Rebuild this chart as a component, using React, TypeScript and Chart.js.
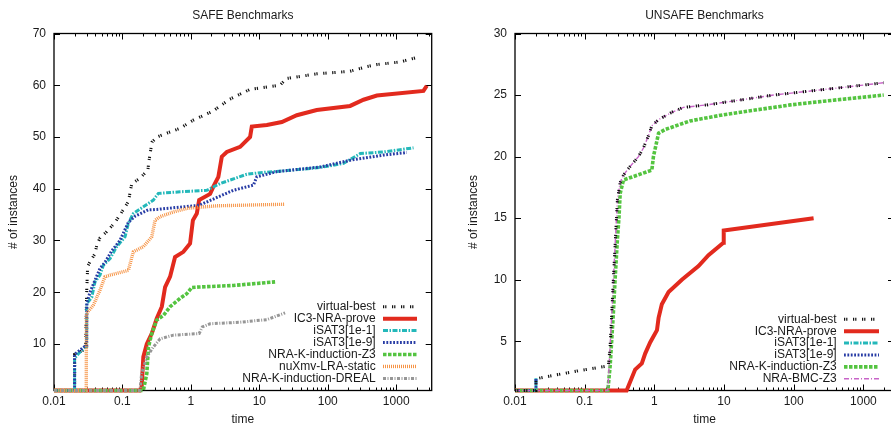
import React, { useEffect, useRef } from "react";
import { Chart, registerables } from "chart.js";

Chart.register(...registerables);

const FONT = "'Liberation Sans', Arial, Helvetica, sans-serif";

// ---------- tick labels ----------
const X_TICKS = [0.01, 0.1, 1, 10, 100, 1000];
const SAFE_Y_TICKS = [10, 20, 30, 40, 50, 60, 70];
const UNSAFE_Y_TICKS = [5, 10, 15, 20, 25, 30];

// ---------- SAFE benchmarks ----------
const safeVirtualBestT = [0.01, 0.02, 0.02, 0.029, 0.03, 0.031, 0.034, 0.04, 0.042, 0.047, 0.059, 0.078, 0.098, 0.122, 0.137, 0.18, 0.235, 0.245, 0.27, 0.32, 0.44, 0.7, 1.1, 2.1, 3.7, 7.3, 20, 25, 69, 212, 373, 522, 1143, 2190];
const safeVirtualBestY = [1, 1, 8, 9, 20, 25, 26, 27.5, 29, 30.5, 31.7, 33.5, 35.5, 37.5, 41, 42, 43.6, 45.5, 49, 50, 50.7, 51.7, 53.3, 55, 57.3, 59.2, 60, 61.3, 62.2, 62.7, 63.6, 64, 64.5, 65.5];

const safeIc3T = [0.01, 0.18, 0.191, 0.202, 0.227, 0.268, 0.317, 0.376, 0.42, 0.497, 0.587, 0.777, 0.973, 1.07, 1.22, 1.32, 1.91, 2.13, 2.52, 2.83, 3.35, 5.24, 7.33, 7.76, 12.9, 21.3, 35.3, 69, 212, 333, 522, 2500, 2800];
const safeIc3Y = [1, 1, 1.7, 7.5, 10, 12, 14.9, 17.2, 21, 23, 26.8, 27.8, 29.4, 33.9, 35.2, 37.8, 39, 40.4, 42.3, 46.2, 47.1, 48.1, 50, 52, 52.3, 52.9, 54.2, 55.2, 56, 57.2, 58, 58.9, 59.9];

const safeIsat1T = [0.01, 0.02, 0.02, 0.0227, 0.0284, 0.03, 0.0301, 0.0356, 0.0397, 0.047, 0.0526, 0.0659, 0.0826, 0.109, 0.122, 0.144, 0.202, 0.283, 0.335, 0.695, 1.71, 2.67, 6.56, 10.3, 25.2, 77.4, 170, 298, 652, 1790];
const safeIsat1Y = [1, 1, 7.2, 8.1, 9.4, 9.5, 17.8, 19, 22, 23.3, 25.2, 26.5, 28.8, 30.7, 33.3, 35.2, 36.5, 37.8, 39.1, 39.4, 39.7, 41, 42.8, 43.1, 43.5, 44.1, 44.9, 46.8, 47.1, 47.9];

const safeIsat9T = [0.01, 0.02, 0.02, 0.024, 0.028, 0.03, 0.0302, 0.0336, 0.0397, 0.047, 0.0557, 0.0698, 0.092, 0.122, 0.153, 0.237, 0.317, 1.32, 4.18, 8.2, 9.18, 18, 77.4, 212, 652, 1430];
const safeIsat9Y = [1, 1, 8, 8.8, 9.5, 9.6, 17.9, 20, 22.3, 24.6, 25.8, 28, 30, 33.5, 34.7, 35.9, 36, 36.8, 39.7, 40.7, 42.3, 43.3, 44.2, 45.5, 46.5, 47];

const safeZ3T = [0.01, 0.202, 0.227, 0.24, 0.268, 0.317, 0.396, 0.497, 0.695, 0.87, 1.03, 1.32, 4.18, 17];
const safeZ3Y = [1, 1, 4.3, 9.4, 12, 14.6, 15.5, 17.2, 18.8, 19.7, 20.9, 21, 21.3, 22];

const safeNuxmvT = [0.01, 0.0296, 0.0298, 0.0376, 0.047, 0.0557, 0.0659, 0.122, 0.144, 0.202, 0.268, 0.3, 0.355, 0.555, 0.87, 2.39, 23.8];
const safeNuxmvY = [1, 1, 15.9, 17.5, 20.4, 23, 23.3, 24.2, 27.8, 28.8, 30.7, 33.9, 34.6, 35.5, 36.2, 36.7, 37];

const safeDrealT = [0.01, 0.18, 0.191, 0.227, 0.283, 0.355, 0.555, 1.32, 1.47, 1.91, 5.24, 12.9, 23.8];
const safeDrealY = [1, 1, 4.3, 7.5, 9.4, 11, 11.7, 12, 13.3, 13.9, 14.2, 14.7, 16];

// ---------- UNSAFE benchmarks ----------
const unsafeVirtualBestT = [0.01, 0.02, 0.02, 0.027, 0.081, 0.219, 0.232, 0.245, 0.258, 0.273, 0.282, 0.295, 0.323, 0.36, 0.449, 0.591, 0.697, 0.823, 0.92, 1.15, 1.78, 2.62, 5.68, 17.1, 51.4, 155, 468, 1960];
const unsafeVirtualBestY = [1, 1, 1.95, 2.1, 2.6, 3, 4.6, 7.3, 10, 12.7, 14.3, 16.5, 17.9, 18.5, 19.2, 20, 20.7, 21.7, 22.5, 23, 23.6, 24, 24.2, 24.6, 25, 25.3, 25.6, 26];

const unsafeIc3T = [0.01, 0.4, 0.53, 0.661, 0.738, 0.87, 1.09, 1.15, 1.28, 1.6, 2.48, 4.3, 5.98, 9.8, 9.9, 193];
const unsafeIc3Y = [1, 1, 2.7, 3.2, 4, 4.9, 5.9, 6.9, 8, 9, 10, 11.1, 12, 13, 14, 15];

const unsafeIsat1T = [0.01, 0.02, 0.02];
const unsafeIsat1Y = [1, 1, 2];

const unsafeIsat9T = [0.01, 0.02, 0.02];
const unsafeIsat9Y = [1, 1, 2];

const unsafeZ3T = [0.01, 0.215, 0.232, 0.258, 0.273, 0.295, 0.311, 0.323, 0.36, 0.92, 0.97, 1.15, 1.43, 3.27, 9.84, 29.7, 89.3, 269, 1960];
const unsafeZ3Y = [1, 1, 3, 7.3, 10, 13.3, 15.1, 17, 18.1, 18.9, 20, 21.9, 22.2, 22.9, 23.4, 23.8, 24.2, 24.5, 25];

const unsafeBmcT = [0.01, 0.215, 0.232, 0.245, 0.258, 0.273, 0.282, 0.295, 0.323, 0.36, 0.449, 0.591, 0.697, 0.823, 0.92, 1.15, 1.78, 2.62, 5.68, 17.1, 51.4, 155, 468, 1960];
const unsafeBmcY = [1, 1, 4.6, 7.3, 10, 12.7, 14.3, 16.5, 17.9, 18.5, 19.2, 20, 20.7, 21.7, 22.5, 23, 23.6, 24, 24.2, 24.6, 25, 25.3, 25.6, 26];

// ---------- styles ----------
const STYLES: Record<string, { color: string; width: number; dash: number[] }> = {
  "virtual-best": { color: "#111111", width: 3, dash: [1.2, 1, 1.2, 5.6] },
  "IC3-NRA-prove": { color: "rgb(226,42,30)", width: 4, dash: [] },
  "iSAT3[1e-1]": { color: "rgb(36,184,186)", width: 3, dash: [5, 1.5, 1.5, 1.5] },
  "iSAT3[1e-9]": { color: "rgb(40,60,165)", width: 3, dash: [1.8, 1.6] },
  "NRA-K-induction-Z3": { color: "rgb(84,196,64)", width: 3.6, dash: [3.5, 1.5] },
  "nuXmv-LRA-static": { color: "rgb(246,148,70)", width: 3.4, dash: [1, 1] },
  "NRA-K-induction-DREAL": { color: "rgb(150,150,150)", width: 3, dash: [3, 1.5, 1, 1.5] },
  "NRA-BMC-Z3": { color: "rgb(200,100,200)", width: 1.4, dash: [5, 2, 1, 2] },
};

const zip = (t: number[], y: number[]) => t.map((v, i) => ({ x: v, y: y[i] }));

function ds(label: string, t: number[], y: number[], i: number, order?: number) {
  const s = STYLES[label];
  return {
    label,
    data: zip(t, y),
    borderColor: s.color,
    backgroundColor: s.color,
    borderWidth: s.width,
    borderDash: s.dash,
    pointRadius: 0,
    tension: 0,
    fill: false,
    clip: false as any,
    order: order !== undefined ? order : -i,
    borderCapStyle: "butt" as const,
    borderJoinStyle: "miter" as const,
  };
}

const decorPlugin = {
  id: "decor",
  beforeDatasetsDraw(chart: any, _args: any, opts: any) {
    const { ctx, chartArea: a, scales } = chart;
    const xs = scales.x;
    const ys = scales.y;
    ctx.save();
    ctx.setLineDash([]);
    ctx.strokeStyle = "#000";
    ctx.lineWidth = 1;
    ctx.beginPath();
    for (let d = -2; d <= 4; d++) {
      for (let m = 1; m <= 9; m++) {
        const v = m * Math.pow(10, d);
        if (v < xs.min * 0.999 || v > xs.max) continue;
        const px = Math.round(xs.getPixelForValue(v)) + 0.5;
        const len = m === 1 ? 6 : 3;
        ctx.moveTo(px, a.bottom);
        ctx.lineTo(px, a.bottom - len);
        ctx.moveTo(px, a.top);
        ctx.lineTo(px, a.top + len);
      }
    }
    for (const v of opts.yTicks) {
      const py = Math.round(ys.getPixelForValue(v)) + 0.5;
      ctx.moveTo(a.left, py);
      ctx.lineTo(a.left + 6, py);
      ctx.moveTo(a.right, py);
      ctx.lineTo(a.right - 6, py);
    }
    ctx.stroke();
    ctx.lineWidth = 1.3;
    ctx.strokeRect(a.left, a.top, a.right - a.left, a.bottom - a.top);
    ctx.restore();
  },
  afterDraw(chart: any, _args: any, opts: any) {
    const { ctx, chartArea: a } = chart;
    ctx.save();
    ctx.font = `12px ${FONT}`;
    ctx.fillStyle = "#1a1a1a";
    ctx.textBaseline = "middle";
    ctx.textAlign = "center";
    ctx.fillText(opts.title, (a.left + a.right) / 2, opts.titleY);
    ctx.textAlign = "right";
    chart.data.datasets.forEach((d: any, i: number) => {
      const y = opts.legendTop + i * opts.legendStep;
      ctx.fillStyle = "#1a1a1a";
      ctx.fillText(d.label, opts.legendTextRight, y);
      ctx.beginPath();
      ctx.setLineDash(d.borderDash || []);
      ctx.lineWidth = d.borderWidth;
      ctx.strokeStyle = d.borderColor;
      ctx.lineCap = "butt";
      ctx.moveTo(opts.legendX0, y);
      ctx.lineTo(opts.legendX1, y);
      ctx.stroke();
    });
    ctx.restore();
  },
};

const CANVAS_H = 427;
const PLOT_TOP = 33.5;
const PLOT_BOTTOM = 390.5;

function makeConfig(p: any) {
  const tickFont = { family: FONT, size: 12 };
  return {
    type: "line" as const,
    data: { datasets: p.datasets },
    options: {
      animation: false as const,
      responsive: false,
      devicePixelRatio: 1,
      events: [],
      layout: { padding: { top: PLOT_TOP, right: p.padRight, left: 0, bottom: 0 } },
      scales: {
        x: {
          type: "logarithmic" as const,
          min: 0.01,
          max: p.xMax,
          bounds: "data" as const,
          afterBuildTicks: (s: any) => {
            s.ticks = X_TICKS.map((v) => ({ value: v }));
          },
          afterFit: (s: any) => {
            s.height = CANVAS_H - PLOT_BOTTOM;
          },
          grid: { display: false, drawTicks: false },
          border: { display: false },
          ticks: {
            autoSkip: false,
            maxRotation: 0,
            minRotation: 0,
            padding: 4,
            color: "#1a1a1a",
            font: tickFont,
            callback: (v: any) => String(v),
          },
          title: { display: true, text: "time", color: "#1a1a1a", font: tickFont, padding: { top: 0, bottom: 0 } },
        },
        y: {
          type: "linear" as const,
          min: 1,
          max: p.yMax,
          afterBuildTicks: (s: any) => {
            s.ticks = p.yTicks.map((v: number) => ({ value: v }));
          },
          afterFit: (s: any) => {
            s.width = p.yWidth;
          },
          grid: { display: false, drawTicks: false },
          border: { display: false },
          ticks: { autoSkip: false, padding: 8, color: "#1a1a1a", font: tickFont },
          title: {
            display: true,
            text: "# of instances",
            color: "#1a1a1a",
            font: tickFont,
            padding: { top: p.yTitlePad, bottom: 0 },
          },
        },
      },
      plugins: {
        legend: { display: false },
        tooltip: { enabled: false },
        title: { display: false },
        decor: {
          title: p.title,
          titleY: 16,
          yTicks: p.yTicks,
          legendTop: p.legendTop,
          legendStep: p.legendStep,
          legendTextRight: p.legendTextRight,
          legendX0: p.legendX0,
          legendX1: p.legendX1,
        },
      },
    },
    plugins: [decorPlugin],
  };
}

function Panel({ left, width, build }: { left: number; width: number; build: () => any }) {
  const ref = useRef<HTMLCanvasElement | null>(null);
  useEffect(() => {
    if (!ref.current) return;
    const chart = new Chart(ref.current, build());
    return () => chart.destroy();
  }, []);
  return (
    <div style={{ position: "absolute", left, top: 0, width, height: CANVAS_H }}>
      <canvas ref={ref} width={width} height={CANVAS_H} style={{ display: "block", width, height: CANVAS_H }} />
    </div>
  );
}

const buildSafe = () =>
  makeConfig({
    title: "SAFE Benchmarks",
    xMax: 3300,
    yMax: 70,
    yTicks: SAFE_Y_TICKS,
    yWidth: 54,
    yTitlePad: 6,
    padRight: 445 - 431.7,
    legendTop: 306.7,
    legendStep: 11.95,
    legendTextRight: 375.7,
    legendX0: 383,
    legendX1: 417,
    datasets: [
      ds("virtual-best", safeVirtualBestT, safeVirtualBestY, 0),
      ds("IC3-NRA-prove", safeIc3T, safeIc3Y, 1),
      ds("iSAT3[1e-1]", safeIsat1T, safeIsat1Y, 2),
      ds("iSAT3[1e-9]", safeIsat9T, safeIsat9Y, 3),
      ds("NRA-K-induction-Z3", safeZ3T, safeZ3Y, 4),
      ds("nuXmv-LRA-static", safeNuxmvT, safeNuxmvY, 5),
      ds("NRA-K-induction-DREAL", safeDrealT, safeDrealY, 6),
    ],
  });

const buildUnsafe = () =>
  makeConfig({
    title: "UNSAFE Benchmarks",
    xMax: 2750,
    yMax: 30,
    yTicks: UNSAFE_Y_TICKS,
    yWidth: 70,
    yTitlePad: 21,
    padRight: 0,
    legendTop: 319.3,
    legendStep: 11.9,
    legendTextRight: 391.7,
    legendX0: 399,
    legendX1: 434,
    datasets: [
      ds("virtual-best", unsafeVirtualBestT, unsafeVirtualBestY, 0, -10),
      ds("IC3-NRA-prove", unsafeIc3T, unsafeIc3Y, 1),
      ds("iSAT3[1e-1]", unsafeIsat1T, unsafeIsat1Y, 2),
      ds("iSAT3[1e-9]", unsafeIsat9T, unsafeIsat9Y, 3),
      ds("NRA-K-induction-Z3", unsafeZ3T, unsafeZ3Y, 4),
      ds("NRA-BMC-Z3", unsafeBmcT, unsafeBmcY, 5),
    ],
  });

export default function App() {
  return (
    <div
      style={{
        position: "fixed",
        left: 0,
        top: 0,
        width: 891,
        height: 425,
        overflow: "hidden",
        background: "#fff",
      }}
    >
      <Panel left={0} width={445} build={buildSafe} />
      <Panel left={445} width={449} build={buildUnsafe} />
    </div>
  );
}
